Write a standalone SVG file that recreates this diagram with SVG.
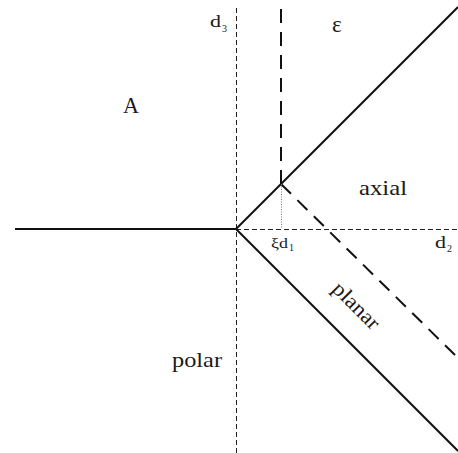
<svg xmlns="http://www.w3.org/2000/svg" width="458" height="453" viewBox="0 0 458 453">
<style>
.t{font-family:'Liberation Serif',Tinos,'Times New Roman',Times,serif;fill:#1a1a1a}
.lab{font-size:21px}
.sm{font-size:14px}
.sub{font-size:10px}
.solid{stroke:#111;stroke-width:2;fill:none}
.long{stroke:#111;stroke-width:2;fill:none;stroke-dasharray:14 9}
.axis{stroke:#222;stroke-width:1;fill:none;stroke-dasharray:5 3}
.dot{stroke:#777;stroke-width:1;fill:none;stroke-dasharray:1 1.5}
</style>
<rect width="458" height="453" fill="#fff"/>
<g id="connectors">
<line class="axis" x1="236.5" y1="8" x2="236.5" y2="453"/>
<line class="axis" x1="236" y1="229.5" x2="458" y2="229.5"/>
<line class="solid" x1="15" y1="229" x2="236" y2="229"/>
<line class="solid" x1="236" y1="229" x2="458" y2="7"/>
<line class="solid" x1="236" y1="229" x2="458" y2="451"/>
<line class="long" x1="281" y1="184" x2="281" y2="8"/>
<line class="long" x1="281" y1="184" x2="456" y2="356"/>
<line class="dot" x1="281.5" y1="184" x2="281.5" y2="229"/>
</g>
<g id="d3" class="t"><text x="210" y="27" style="font-size:17px" textLength="11" lengthAdjust="spacingAndGlyphs">d</text><text class="sub" x="222" y="32">3</text></g>
<g id="epsilon" class="t"><text x="332" y="32" style="font-size:23px">ε</text></g>
<g id="A" class="t"><text x="123" y="113" style="font-size:23px" textLength="16" lengthAdjust="spacingAndGlyphs">A</text></g>
<g id="axial" class="t"><text class="lab" x="359" y="195" textLength="48" lengthAdjust="spacingAndGlyphs">axial</text></g>
<g id="xid1" class="t"><text class="sm" x="271" y="248" textLength="17" lengthAdjust="spacingAndGlyphs">ξd</text><text class="sub" x="289" y="251">1</text></g>
<g id="d2" class="t"><text x="435" y="248" style="font-size:17px" textLength="11" lengthAdjust="spacingAndGlyphs">d</text><text class="sub" x="447" y="252">2</text></g>
<g id="planar" class="t"><text class="lab" x="355" y="312" text-anchor="middle" textLength="58" lengthAdjust="spacingAndGlyphs" transform="rotate(45 355 307)">planar</text></g>
<g id="polar" class="t"><text class="lab" x="172" y="367" textLength="50" lengthAdjust="spacingAndGlyphs">polar</text></g>
</svg>
